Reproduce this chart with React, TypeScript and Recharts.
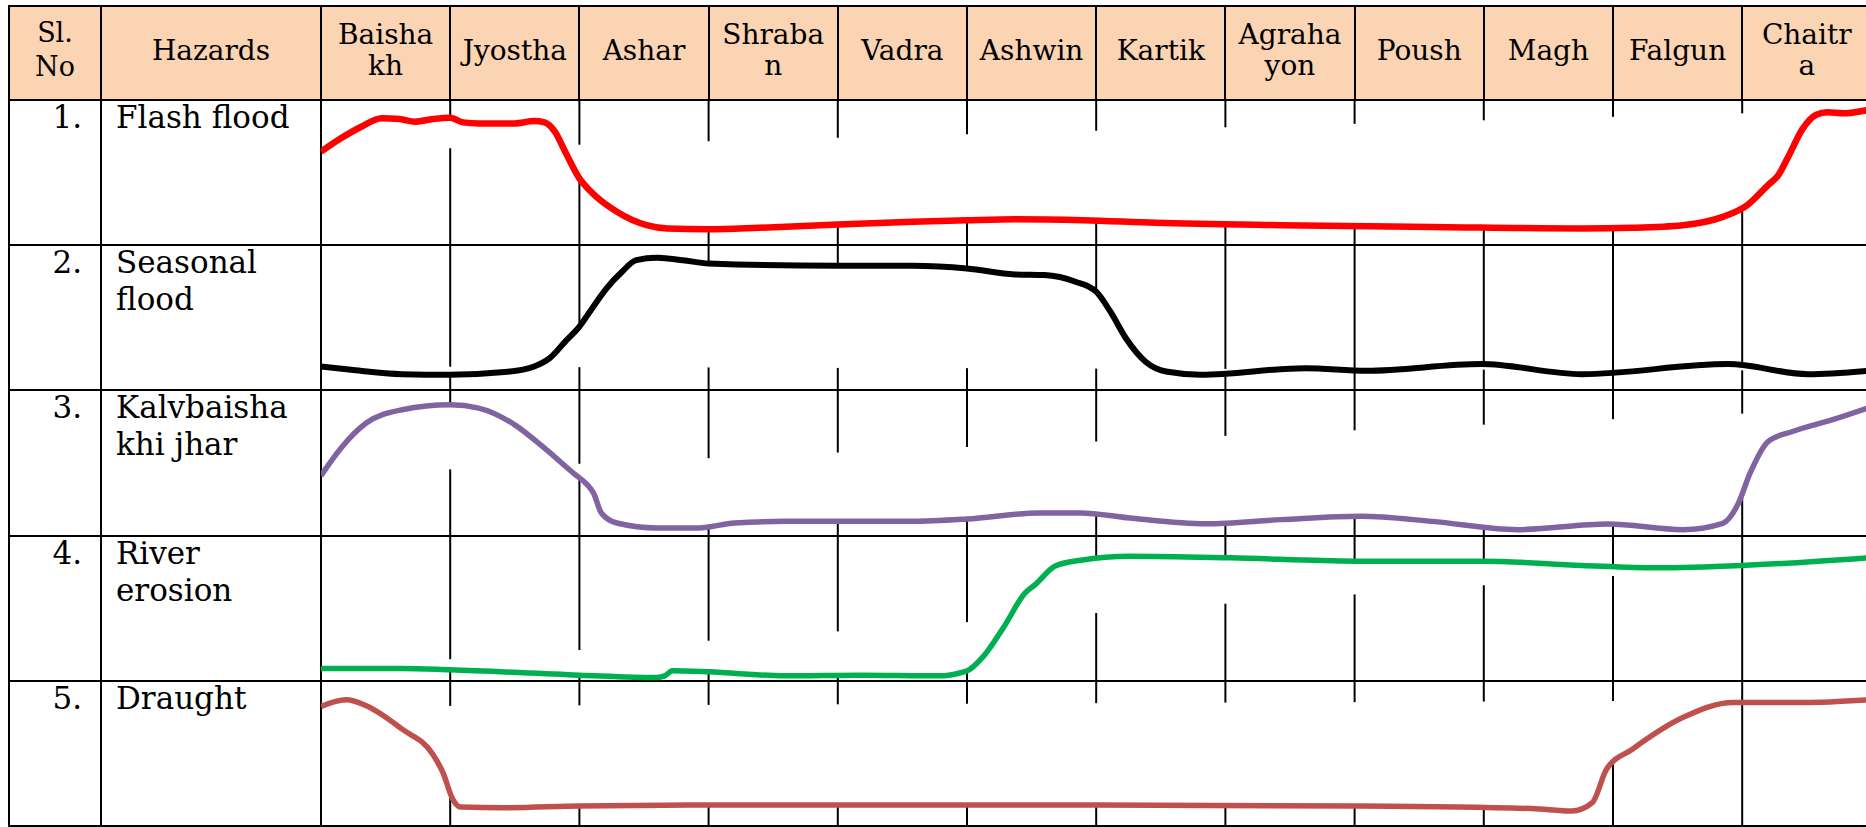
import React from "react";
import { ComposedChart, Line, XAxis, YAxis, ReferenceLine } from "recharts";

// header text, split where the source table wraps it
const MONTHS = [
  ["Baisha", "kh"], ["Jyostha"], ["Ashar"], ["Shraba", "n"], ["Vadra"], ["Ashwin"],
  ["Kartik"], ["Agraha", "yon"], ["Poush"], ["Magh"], ["Falgun"], ["Chaitr", "a"],
];
const SL_NO = ["1.", "2.", "3.", "4.", "5."];
const HAZARDS = [["Flash flood"], ["Seasonal", "flood"], ["Kalvbaisha", "khi jhar"], ["River", "erosion"], ["Draught"]];

// x = months from start of Baishakh, v = level inside the row (0 bottom, 1 top)
const FLASH_FLOOD = [
  { x: 0, v: 0.644 }, { x: 0.154, v: 0.736 }, { x: 0.312, v: 0.816 }, { x: 0.47, v: 0.874 },
  { x: 0.608, v: 0.869 }, { x: 0.727, v: 0.851 }, { x: 0.865, v: 0.869 }, { x: 1.0, v: 0.878 },
  { x: 1.1, v: 0.846 }, { x: 1.22, v: 0.839 }, { x: 1.5, v: 0.839 }, { x: 1.65, v: 0.855 },
  { x: 1.73, v: 0.846 }, { x: 1.81, v: 0.782 }, { x: 1.89, v: 0.644 }, { x: 2.0, v: 0.46 },
  { x: 2.09, v: 0.368 }, { x: 2.29, v: 0.23 }, { x: 2.52, v: 0.138 }, { x: 2.68, v: 0.115 },
  { x: 3.0, v: 0.11 }, { x: 3.39, v: 0.12 }, { x: 4.0, v: 0.143 }, { x: 4.58, v: 0.161 },
  { x: 5.0, v: 0.172 }, { x: 5.37, v: 0.179 }, { x: 5.9, v: 0.172 }, { x: 6.46, v: 0.154 },
  { x: 7.43, v: 0.138 }, { x: 8.6, v: 0.126 }, { x: 9.76, v: 0.115 }, { x: 10.15, v: 0.12 },
  { x: 10.54, v: 0.138 }, { x: 10.85, v: 0.195 }, { x: 11.04, v: 0.276 }, { x: 11.2, v: 0.414 },
  { x: 11.28, v: 0.483 }, { x: 11.35, v: 0.598 }, { x: 11.47, v: 0.805 }, { x: 11.57, v: 0.897 },
  { x: 11.66, v: 0.915 }, { x: 11.78, v: 0.908 }, { x: 11.97, v: 0.931 },
];
const SEASONAL_FLOOD = [
  { x: 0, v: 0.165 }, { x: 0.233, v: 0.142 }, { x: 0.628, v: 0.112 }, { x: 1.0, v: 0.108 },
  { x: 1.42, v: 0.126 }, { x: 1.65, v: 0.165 }, { x: 1.77, v: 0.222 }, { x: 1.89, v: 0.336 },
  { x: 2.0, v: 0.439 }, { x: 2.09, v: 0.554 }, { x: 2.21, v: 0.703 }, { x: 2.33, v: 0.817 },
  { x: 2.44, v: 0.897 }, { x: 2.6, v: 0.913 }, { x: 2.8, v: 0.897 }, { x: 3.0, v: 0.874 },
  { x: 4.0, v: 0.858 }, { x: 4.58, v: 0.858 }, { x: 5.0, v: 0.84 }, { x: 5.37, v: 0.799 },
  { x: 5.6, v: 0.794 }, { x: 5.84, v: 0.748 }, { x: 6.0, v: 0.68 }, { x: 6.11, v: 0.542 },
  { x: 6.23, v: 0.359 }, { x: 6.38, v: 0.199 }, { x: 6.54, v: 0.13 }, { x: 6.81, v: 0.108 },
  { x: 7.62, v: 0.153 }, { x: 8.09, v: 0.135 }, { x: 8.98, v: 0.181 }, { x: 9.76, v: 0.112 },
  { x: 10.89, v: 0.181 }, { x: 11.51, v: 0.112 }, { x: 11.97, v: 0.135 },
];
const KALVBAISHAKHI = [
  { x: 0, v: 0.413 }, { x: 0.154, v: 0.602 }, { x: 0.35, v: 0.775 }, { x: 0.628, v: 0.867 },
  { x: 1.0, v: 0.901 }, { x: 1.22, v: 0.878 }, { x: 1.5, v: 0.763 }, { x: 1.73, v: 0.602 },
  { x: 1.97, v: 0.418 }, { x: 2.05, v: 0.36 }, { x: 2.11, v: 0.291 }, { x: 2.17, v: 0.156 },
  { x: 2.29, v: 0.087 }, { x: 2.6, v: 0.053 }, { x: 2.92, v: 0.053 }, { x: 3.2, v: 0.087 },
  { x: 3.59, v: 0.098 }, { x: 4.58, v: 0.098 }, { x: 5.0, v: 0.114 }, { x: 5.56, v: 0.156 },
  { x: 5.88, v: 0.156 }, { x: 6.26, v: 0.121 }, { x: 6.85, v: 0.082 }, { x: 7.43, v: 0.11 },
  { x: 8.05, v: 0.133 }, { x: 8.6, v: 0.098 }, { x: 9.26, v: 0.041 }, { x: 9.96, v: 0.08 },
  { x: 10.54, v: 0.041 }, { x: 10.85, v: 0.085 }, { x: 10.97, v: 0.222 }, { x: 11.06, v: 0.428 },
  { x: 11.2, v: 0.648 }, { x: 11.39, v: 0.717 }, { x: 11.7, v: 0.798 }, { x: 11.97, v: 0.878 },
];
const RIVER_EROSION = [
  { x: 0, v: 0.085 }, { x: 0.628, v: 0.085 }, { x: 1.0, v: 0.076 }, { x: 2.0, v: 0.039 },
  { x: 2.6, v: 0.023 }, { x: 2.66, v: 0.034 }, { x: 2.72, v: 0.069 }, { x: 3.0, v: 0.062 },
  { x: 3.59, v: 0.034 }, { x: 4.18, v: 0.039 }, { x: 4.77, v: 0.034 }, { x: 5.0, v: 0.069 },
  { x: 5.13, v: 0.172 }, { x: 5.29, v: 0.378 }, { x: 5.45, v: 0.606 }, { x: 5.53, v: 0.664 },
  { x: 5.68, v: 0.789 }, { x: 5.88, v: 0.83 }, { x: 6.26, v: 0.858 }, { x: 7.04, v: 0.847 },
  { x: 8.0, v: 0.824 }, { x: 8.98, v: 0.824 }, { x: 9.76, v: 0.794 }, { x: 10.34, v: 0.778 },
  { x: 11.0, v: 0.794 }, { x: 11.97, v: 0.847 },
];
const DRAUGHT = [
  { x: 0, v: 0.823 }, { x: 0.194, v: 0.869 }, { x: 0.35, v: 0.828 }, { x: 0.628, v: 0.667 },
  { x: 0.865, v: 0.494 }, { x: 0.944, v: 0.368 }, { x: 1.02, v: 0.184 }, { x: 1.08, v: 0.131 },
  { x: 1.42, v: 0.126 }, { x: 2.0, v: 0.138 }, { x: 3.0, v: 0.145 }, { x: 4.0, v: 0.145 },
  { x: 6.0, v: 0.145 }, { x: 8.0, v: 0.138 }, { x: 9.37, v: 0.12 }, { x: 9.68, v: 0.103 },
  { x: 9.84, v: 0.161 }, { x: 9.95, v: 0.391 }, { x: 10.15, v: 0.529 }, { x: 10.54, v: 0.747 },
  { x: 10.93, v: 0.851 }, { x: 11.47, v: 0.851 }, { x: 11.97, v: 0.869 },
];

// month rulings inside each row (month lines 1..11): [upper piece starts at, lower piece ends at]
// the drawn sketch hides the ruling between these two levels
const FLASH_FLOOD_RULES = [[0.878, 0.668], [0.692, 0.46], [0.716, 0.11], [0.74, 0.143], [0.764, 0.172], [0.788, 0.166], [0.812, 0.14], [0.836, 0.13], [0.86, 0.125], [0.884, 0.118], [0.908, 0.27]];
const SEASONAL_FLOOD_RULES = [[0.163, 0.108], [0.439, 0.16], [0.874, 0.158], [0.858, 0.155], [0.84, 0.153], [0.68, 0.15], [0.148, 0.13], [0.145, 0.135], [0.165, 0.143], [0.14, 0.13], [0.17, 0.138]];
const KALVBAISHAKHI_RULES = [[0.901, 0.456], [0.495, 0.384], [0.533, 0.06], [0.572, 0.098], [0.61, 0.114], [0.648, 0.14], [0.687, 0.1], [0.725, 0.133], [0.764, 0.05], [0.802, 0.08], [0.84, 0.29]];
const RIVER_EROSION_RULES = [[0.149, 0.076], [0.212, 0.039], [0.276, 0.062], [0.34, 0.037], [0.404, 0.069], [0.85, 0.467], [0.847, 0.531], [0.824, 0.595], [0.824, 0.658], [0.79, 0.722], [0.794, 0.786]];
const DRAUGHT_RULES = [[0.827, 0.2], [0.831, 0.138], [0.834, 0.145], [0.838, 0.145], [0.842, 0.145], [0.846, 0.143], [0.85, 0.14], [0.853, 0.138], [0.857, 0.128], [0.861, 0.45], [0.865, 0.851]];

const ROWS = [
  { id: "r0", data: FLASH_FLOOD, rules: FLASH_FLOOD_RULES, color: "#FF0000", width: 6.5 },
  { id: "r1", data: SEASONAL_FLOOD, rules: SEASONAL_FLOOD_RULES, color: "#000000", width: 6 },
  { id: "r2", data: KALVBAISHAKHI, rules: KALVBAISHAKHI_RULES, color: "#8064A2", width: 5.5 },
  { id: "r3", data: RIVER_EROSION, rules: RIVER_EROSION_RULES, color: "#00B050", width: 5.5 },
  { id: "r4", data: DRAUGHT, rules: DRAUGHT_RULES, color: "#C0504D", width: 5.5 },
];

// table geometry (px)
const LEFT = 9;
const TOP = 6;
const HEAD_H = 94;
const SL_RIGHT = 101;
const HZ_RIGHT = 321;
const MONTH_W = 129.2;
const ROW_H = 145.2;
const BODY_TOP = TOP + HEAD_H;
const BOTTOM = BODY_TOP + ROW_H * 5;
const PAD = 10;
const RULE = "#000";

const hLine = (y: number, key: string) => (
  <div key={key} style={{ position: "absolute", left: LEFT - 1, top: y - 1, width: 1900, height: 2, background: RULE }} />
);
const vLine = (x: number, y0: number, y1: number, key: string) => (
  <div key={key} style={{ position: "absolute", left: x - 1, top: y0 - 1, width: 2, height: y1 - y0 + 2, background: RULE }} />
);

export default function App() {
  const cell: React.CSSProperties = {
    position: "absolute",
    top: TOP - 3,
    height: HEAD_H,
    display: "flex",
    alignItems: "center",
    justifyContent: "center",
    textAlign: "center",
    fontSize: 28,
    lineHeight: "31px",
  };

  return (
    <div
      style={{
        position: "absolute", left: 0, top: 0, width: 1866, height: 827, overflow: "hidden",
        background: "#fff", fontFamily: "'DejaVu Serif', serif", color: "#000",
      }}
    >
      <div style={{ position: "absolute", left: LEFT, top: TOP, width: 1900, height: HEAD_H, background: "#FBD4B4" }} />

      <div style={{ ...cell, left: LEFT, width: SL_RIGHT - LEFT, fontSize: 27, lineHeight: "34px" }}>
        <div>Sl.<br />No</div>
      </div>
      <div style={{ ...cell, left: SL_RIGHT, width: HZ_RIGHT - SL_RIGHT }}>Hazards</div>
      {MONTHS.map((m, i) => (
        <div key={i} style={{ ...cell, left: HZ_RIGHT + i * MONTH_W, width: MONTH_W }}>
          <div>
            {m.map((part, k) => (
              <div key={k}>{part}</div>
            ))}
          </div>
        </div>
      ))}

      {SL_NO.map((n, i) => (
        <div
          key={n}
          style={{
            position: "absolute", left: LEFT, top: BODY_TOP + i * ROW_H - 1, width: SL_RIGHT - LEFT - 19,
            textAlign: "right", fontSize: 31, lineHeight: "37px",
          }}
        >
          {n}
        </div>
      ))}
      {HAZARDS.map((h, i) => (
        <div
          key={i}
          style={{
            position: "absolute", left: SL_RIGHT + 15, top: BODY_TOP + i * ROW_H - 1,
            fontSize: 31, lineHeight: "37px", whiteSpace: "nowrap",
          }}
        >
          {h.map((part, k) => (
            <div key={k}>{part}</div>
          ))}
        </div>
      ))}

      {hLine(TOP, "h-top")}
      {hLine(BODY_TOP, "h-head")}
      {ROWS.map((_, i) => hLine(BODY_TOP + (i + 1) * ROW_H, `h-${i}`))}
      {vLine(LEFT, TOP, BOTTOM, "v-left")}
      {vLine(SL_RIGHT, TOP, BOTTOM, "v-sl")}
      {vLine(HZ_RIGHT, TOP, BOTTOM, "v-hz")}
      {MONTHS.map((_, i) => vLine(HZ_RIGHT + (i + 1) * MONTH_W, TOP, BODY_TOP, `v-m${i}`))}

      <div style={{ position: "absolute", left: HZ_RIGHT - PAD, top: BODY_TOP - PAD }}>
        <ComposedChart
          width={MONTH_W * 12 + PAD * 2}
          height={ROW_H * 5 + PAD * 2}
          margin={{ top: PAD, right: PAD, bottom: PAD, left: PAD }}
        >
          <XAxis type="number" dataKey="x" domain={[0, 12]} hide allowDataOverflow />
          {ROWS.map((row, i) => (
            <YAxis key={row.id} yAxisId={row.id} type="number" domain={[i - 4, i + 1]} hide allowDataOverflow />
          ))}
          {ROWS.flatMap((row) =>
            row.rules.flatMap(([upper, lower], k) => [
              <ReferenceLine
                key={`${row.id}-u${k}`}
                yAxisId={row.id}
                segment={[{ x: k + 1, y: upper }, { x: k + 1, y: 1 }]}
                stroke={RULE}
                strokeWidth={2}
              />,
              <ReferenceLine
                key={`${row.id}-l${k}`}
                yAxisId={row.id}
                segment={[{ x: k + 1, y: 0 }, { x: k + 1, y: lower }]}
                stroke={RULE}
                strokeWidth={2}
              />,
            ])
          )}
          {ROWS.map((row) => (
            <Line
              key={row.id}
              yAxisId={row.id}
              data={row.data}
              dataKey="v"
              type="monotone"
              stroke={row.color}
              strokeWidth={row.width}
              dot={false}
              activeDot={false}
              isAnimationActive={false}
            />
          ))}
        </ComposedChart>
      </div>
    </div>
  );
}
